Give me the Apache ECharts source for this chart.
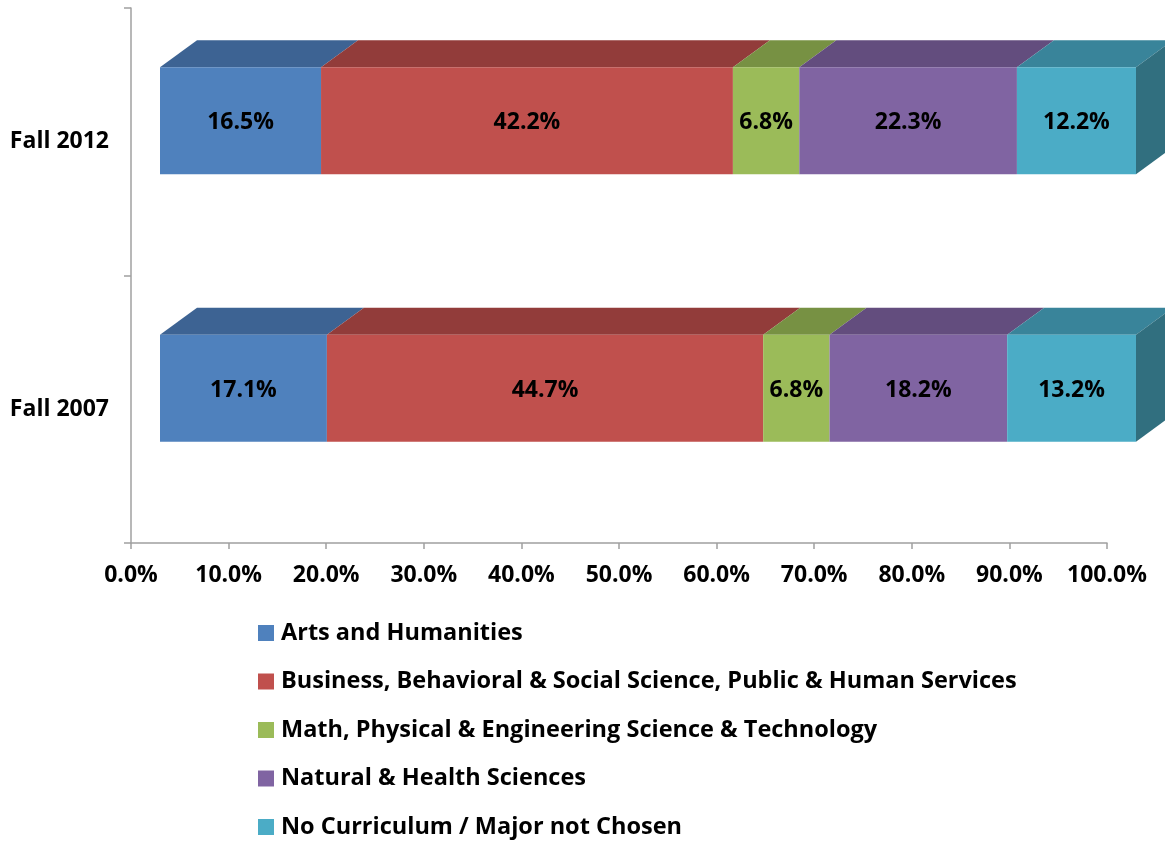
<!DOCTYPE html>
<html>
<head>
<meta charset="utf-8">
<script src="https://cdn.jsdelivr.net/npm/echarts@6/dist/echarts.min.js"></script>
<style>
  html, body { margin: 0; padding: 0; background: #fff; }
  #chart { width: 1165px; height: 843px; }
</style>
</head>
<body>
<div id="chart"></div>
<script>
// categories, bottom to top
var categories = ['Fall 2007', 'Fall 2012'];

var seriesNames = [
    'Arts and Humanities',
    'Business, Behavioral & Social Science, Public & Human Services',
    'Math, Physical & Engineering Science & Technology',
    'Natural & Health Sciences',
    'No Curriculum / Major not Chosen'
];

// percent per category (Fall 2007, Fall 2012)
var artsHumanities = [17.1, 16.5];
var businessSocial = [44.7, 42.2];
var mathEngineering = [6.8, 6.8];
var naturalHealth = [18.2, 22.3];
var noCurriculum = [13.2, 12.2];

var xTicks = [0, 10, 20, 30, 40, 50, 60, 70, 80, 90, 100];

var seriesValues = [artsHumanities, businessSocial, mathEngineering, naturalHealth, noCurriculum];

// front / top / side colours
var frontColors = ['#4F81BD', '#C0504D', '#9BBB59', '#8064A2', '#4BACC6'];
var topColors = ['#3D6393', '#923C3A', '#779143', '#634D7E', '#39849A'];
var sideColors = ['#35567E', '#7E3432', '#677D3A', '#55426C', '#316F7F'];

var FONT = '"Open Sans"';
var DX = 37, DY = 27;       // depth of the 3d box
var SHIFT_X = 29, SHIFT_Y = -21;

function makeRenderer(idx, last) {
    return function (params, api) {
        var cat = api.value(0);
        var start = api.value(1);
        var end = api.value(2);
        var val = api.value(3);
        var p0 = api.coord([start, cat]);
        var p1 = api.coord([end, cat]);
        var band = api.size([0, 1])[1];
        var h = band * 0.4;
        var x0 = p0[0] + SHIFT_X;
        var x1 = p1[0] + SHIFT_X;
        var yc = p0[1] + SHIFT_Y;
        var top = yc - h / 2;
        var bottom = yc + h / 2;

        var children = [{
            type: 'polygon',
            shape: { points: [[x0, top], [x0 + DX, top - DY], [x1 + DX, top - DY], [x1, top]] },
            style: { fill: topColors[idx] }
        }, {
            type: 'rect',
            shape: { x: x0, y: top, width: x1 - x0, height: h },
            style: { fill: frontColors[idx] }
        }];
        if (last) {
            children.push({
                type: 'polygon',
                shape: { points: [[x1, top], [x1 + DX, top - DY], [x1 + DX, bottom - DY], [x1, bottom]] },
                style: { fill: sideColors[idx] }
            });
        }
        children.push({
            type: 'text',
            style: {
                text: val.toFixed(1) + '%',
                x: (x0 + x1) / 2,
                y: yc + 2,
                align: 'center',
                verticalAlign: 'middle',
                fill: '#000',
                font: 'bold 23px ' + FONT
            }
        });
        return { type: 'group', children: children };
    };
}

var series = [];
var cumulative = categories.map(function () { return 0; });
for (var s = 0; s < seriesNames.length; s++) {
    var data = [];
    for (var i = 0; i < categories.length; i++) {
        var v = seriesValues[s][i];
        data.push([i, cumulative[i], cumulative[i] + v, v]);
        cumulative[i] += v;
    }
    series.push({
        name: seriesNames[s],
        type: 'custom',
        renderItem: makeRenderer(s, s === seriesNames.length - 1),
        itemStyle: { color: frontColors[s] },
        encode: { x: [1, 2], y: 0 },
        data: data
    });
}

var myChart = echarts.init(document.getElementById('chart'));
var options = {
    backgroundColor: '#fff',
    animation: false,
    grid: { left: 131, right: 58, top: 8, bottom: 300 },
    legend: {
        orient: 'vertical',
        left: 258,
        top: 621,
        height: 222,
        padding: 0,
        icon: 'rect',
        itemWidth: 16,
        itemHeight: 16,
        itemGap: 24.5,
        data: seriesNames,
        textStyle: {
            fontFamily: FONT,
            fontWeight: 'bold',
            fontSize: 23.5,
            color: '#000',
            padding: [0, 0, 0, 2]
        }
    },
    xAxis: {
        type: 'value',
        min: xTicks[0],
        max: xTicks[xTicks.length - 1],
        interval: 10,
        axisLine: { show: true, lineStyle: { color: '#A0A0A0', width: 1.5 } },
        axisTick: { show: true, length: 6, lineStyle: { color: '#A0A0A0', width: 1.5 } },
        splitLine: { show: false },
        axisLabel: {
            margin: 21,
            color: '#000',
            fontFamily: FONT,
            fontWeight: 'bold',
            fontSize: 23,
            formatter: function (v) { return v.toFixed(1) + '%'; }
        }
    },
    yAxis: {
        type: 'category',
        data: categories,
        axisLine: { show: true, lineStyle: { color: '#A0A0A0', width: 1.5 } },
        axisTick: { show: true, length: 7, lineStyle: { color: '#A0A0A0', width: 1.5 } },
        axisLabel: {
            margin: 22,
            color: '#000',
            fontFamily: FONT,
            fontWeight: 'bold',
            fontSize: 23
        }
    },
    series: series
};
myChart.setOption(options, true);
</script>
</body>
</html>
